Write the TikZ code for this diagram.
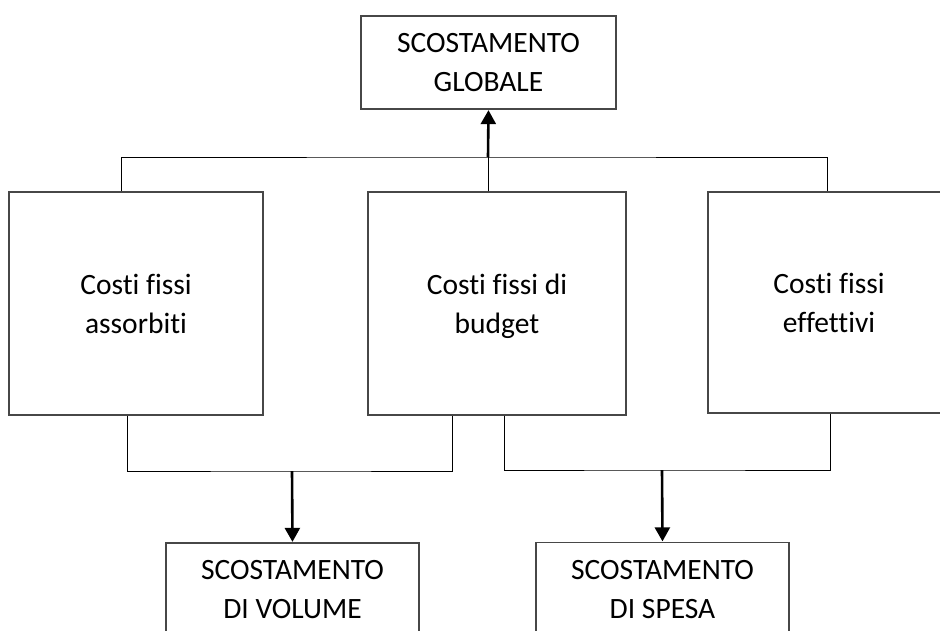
\documentclass[tikz,border=0pt]{standalone}
\usepackage{fontspec}
\setmainfont{Carlito}[Ligatures=NoCommon]
\usetikzlibrary{arrows.meta}

\tikzset{
  box/.style={draw=black!72, line width=1.3pt, fill=white, rectangle, inner sep=0pt,
              align=center, text depth=0pt, font=\fontsize{29.5}{39}\selectfont},
  wire/.style={draw=black, line width=1pt},
  flow/.style={draw=black, line width=2.6pt,
               -{Triangle[width=15pt,length=14pt]}, shorten >=0.5pt}
}

\begin{document}
\begin{tikzpicture}[x=1pt, y=-1pt]
  \path[use as bounding box, fill=white] (0,0) rectangle (940,630);
  \clip (0,0) rectangle (940,630);

  % boxes
  \node[box, minimum width=255pt, minimum height=93pt]  (glob)  at (488.5,62.5) {SCOSTAMENTO\\GLOBALE};
  \node[box, minimum width=254pt, minimum height=223pt] (ass)   at (136,303.5)  {Costi fissi\\assorbiti};
  \node[box, minimum width=258pt, minimum height=223pt] (bud)   at (497,303.5)  {Costi fissi di\\budget};
  \node[box, minimum width=242pt, minimum height=221pt] (eff)   at (829,302.5)  {Costi fissi\\effettivi};
  \node[box, minimum width=253pt, minimum height=93pt]  (vol)   at (292.5,589.5) {SCOSTAMENTO\\DI VOLUME};
  \node[box, minimum width=253pt, minimum height=93pt]  (spesa) at (662.5,589)  {SCOSTAMENTO\\DI SPESA};

  % upper bus: the three cost boxes feed the overall variance
  \coordinate (bus) at (488,157);
  \draw[wire] ([xshift=-15pt]ass.north) |- (bus) -| ([xshift=-2pt]eff.north);
  \draw[wire] ([xshift=-9pt]bud.north) -- (bus);
  \draw[flow] (bus) -- (glob.south);

  % volume variance bracket
  \coordinate (vbar) at (292,471);
  \draw[wire] ([xshift=-9pt]ass.south) |- (vbar) -| ([xshift=-45pt]bud.south);
  \draw[flow] (vbar) -- (vol.north);

  % spending variance bracket
  \coordinate (sbar) at (662,470);
  \draw[wire] ([xshift=7pt]bud.south) |- (sbar) -| ([xshift=1pt]eff.south);
  \draw[flow] (sbar) -- (spesa.north);
\end{tikzpicture}
\end{document}
